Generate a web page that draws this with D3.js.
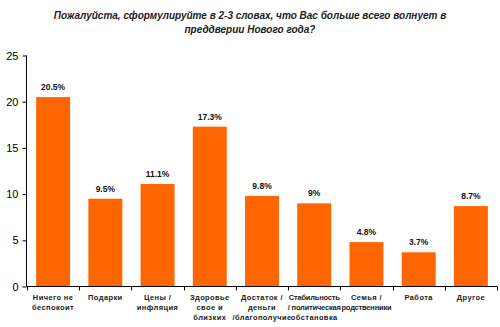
<!DOCTYPE html>
<html><head><meta charset="utf-8">
<script src="https://cdn.jsdelivr.net/npm/d3@7"></script>
<style>body{margin:0;background:#fff}svg{display:block}text{font-family:Arial,"Liberation Sans",sans-serif}</style>
</head><body>
<svg id="c" width="500" height="327"></svg>
<script>
const titleLines = ["Пожалуйста, сформулируйте в 2-3 словах, что Вас больше всего волнует в","преддверии Нового года?"];
const categories = ["Ничего не беспокоит","Подарки","Цены / инфляция","Здоровье свое и близких","Достаток / деньги /благополучие","Стабильность / политическая обстановка","Семья / родственники","Работа","Другое"];
const categoryLines = [["Ничего не","беспокоит"],["Подарки"],["Цены /","инфляция"],["Здоровье","свое и","близких"],["Достаток /","деньги","/благополучие"],["Стабильность","/ политическая","обстановка"],["Семья /","родственники"],["Работа"],["Другое"]];
const values = [20.5, 9.5, 11.1, 17.3, 9.8, 9, 4.8, 3.7, 8.7];
const valueLabels = ["20.5%","9.5%","11.1%","17.3%","9.8%","9%","4.8%","3.7%","8.7%"];
const yTicks = [0,5,10,15,20,25];

const svg = d3.select("#c");
const mLeft = 27, mRight = 497, mTop = 55.5, mBottom = 286.5;
const x = d3.scaleBand().domain(categories).range([mLeft, mRight]).paddingInner(0.35).paddingOuter(0.175);
const y = d3.scaleLinear().domain([0,25]).range([mBottom, mTop]);

// title
svg.append("g").selectAll("text").data(titleLines).join("text")
  .attr("x", 250).attr("y", (d,i)=>19 + i*14)
  .attr("text-anchor","middle").attr("font-size", 10).attr("font-weight","bold").attr("font-style","italic")
  .attr("fill","#222").text(d=>d);

// bars
svg.append("g").selectAll("rect").data(values).join("rect")
  .attr("x",(d,i)=>x(categories[i])).attr("width", x.bandwidth())
  .attr("y", d=>y(d)).attr("height", d=>y(0)-y(d)).attr("fill","#FF6600");

// value labels
svg.append("g").selectAll("text").data(values).join("text")
  .attr("x",(d,i)=>x(categories[i])+x.bandwidth()/2).attr("y", d=>y(d)-7)
  .attr("text-anchor","middle").attr("font-size",8.5).attr("font-weight","bold").attr("fill","#111")
  .text((d,i)=>valueLabels[i]);

// y axis
const yAxis = svg.append("g").attr("transform",`translate(${mLeft-0.5},0)`)
  .call(d3.axisLeft(y).tickValues(yTicks).tickSize(4).tickPadding(4));
yAxis.select(".domain").attr("stroke","#000").attr("d",`M0,${y(25)}V${y(0)}`);
yAxis.selectAll("text").attr("font-size",11).attr("fill","#000").attr("font-family","Arial, 'Liberation Sans', sans-serif");

// x axis line and boundary ticks
const step = x.step();
const bounds = categories.map(c => x(c) - step*x.paddingInner()/2).concat([mRight]);
svg.append("line").attr("x1",mLeft-0.5).attr("x2",mRight).attr("y1",mBottom).attr("y2",mBottom).attr("stroke","#000");
svg.append("g").selectAll("line").data(bounds).join("line")
  .attr("x1",d=>Math.round(d)+0.5).attr("x2",d=>Math.round(d)+0.5).attr("y1",mBottom).attr("y2",mBottom+4).attr("stroke","#000");

// category labels
const cg = svg.append("g").selectAll("text").data(categories).join("text")
  .attr("text-anchor","middle").attr("font-size",7.5).attr("font-weight","bold").attr("fill","#222")
  .attr("letter-spacing",0.4);
cg.each(function(c,i){
  d3.select(this).selectAll("tspan").data(categoryLines[i]).join("tspan")
    .attr("x", x(c)+x.bandwidth()/2).attr("y",(d,j)=>300 + j*10)
    .attr("letter-spacing", d => (d.length >= 12 && i >= 5 && i <= 6) ? -0.2 : null)
    .text(d=>d);
});
</script>
</body></html>
